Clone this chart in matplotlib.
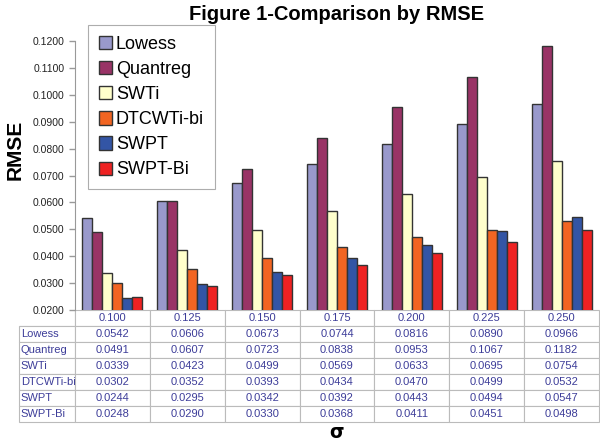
import numpy as np
import matplotlib
matplotlib.use("Agg")
from matplotlib import pyplot as plt

plt.rcParams['font.family'] = ['Liberation Sans', 'DejaVu Sans']

sigmas = ['0.100', '0.125', '0.150', '0.175', '0.200', '0.225', '0.250']
methods = ['Lowess', 'Quantreg', 'SWTi', 'DTCWTi-bi', 'SWPT', 'SWPT-Bi']
lowess = [0.0542, 0.0606, 0.0673, 0.0744, 0.0816, 0.0890, 0.0966]
quantreg = [0.0491, 0.0607, 0.0723, 0.0838, 0.0953, 0.1067, 0.1182]
swti = [0.0339, 0.0423, 0.0499, 0.0569, 0.0633, 0.0695, 0.0754]
dtcwti_bi = [0.0302, 0.0352, 0.0393, 0.0434, 0.0470, 0.0499, 0.0532]
swpt = [0.0244, 0.0295, 0.0342, 0.0392, 0.0443, 0.0494, 0.0547]
swpt_bi = [0.0248, 0.0290, 0.0330, 0.0368, 0.0411, 0.0451, 0.0498]
colors = ['#9999cc', '#993366', '#ffffcc', '#f26522', '#3355a5', '#ee2222']

series = [lowess, quantreg, swti, dtcwti_bi, swpt, swpt_bi]

W, H = 600, 441
fig = plt.figure(figsize=(6, 4.41), dpi=100)
ax = fig.add_axes([75 / W, 1 - 310 / H, 524 / W, 269 / H])

x = np.arange(len(sigmas))
bw = 0.8 / len(methods)
handles = []
for i, (name, vals) in enumerate(zip(methods, series)):
    b = ax.bar(x - 0.4 + bw * (i + 0.5), vals, bw, bottom=0, color=colors[i],
               edgecolor='#333333', linewidth=1, label=name)
    handles.append(b)

ax.set_xlim(-0.5, len(sigmas) - 0.5)
ax.set_ylim(0.02, 0.12)
yt = np.arange(0.02, 0.1201, 0.01)
ax.set_yticks(yt)
ax.set_yticklabels(['%.4f' % v for v in yt], fontsize=7.5, color='#222222')
ax.tick_params(axis='y', length=4, color='#999999', width=1)
ax.set_xticks([])
for s in ['top', 'right', 'bottom']:
    ax.spines[s].set_visible(False)
ax.spines['left'].set_color('#999999')

fig.text(337 / W, 1 - 15 / H, 'Figure 1-Comparison by RMSE', fontsize=14.5,
         fontweight='bold', ha='center', va='center')
fig.text(15 / W, 1 - 150 / H, 'RMSE', rotation=90, fontsize=15, fontweight='bold',
         ha='center', va='center')
fig.text(337 / W, 1 - 432 / H, 'σ', fontsize=13.5, fontweight='heavy',
         ha='center', va='center', family=['DejaVu Sans'])

# table under the plot
cell_text = [[m] + ['%.4f' % v for v in vals] for m, vals in zip(methods, series)]
col_labels = [''] + sigmas
widths = [56] + [75] * 7
widths = [w_ / sum(widths) for w_ in widths]
x0 = (19 - 75) / 524
tbl = ax.table(cellText=cell_text, colLabels=col_labels, colWidths=widths,
               cellLoc='center', bbox=[x0, -(422 - 310) / 269, (599 - 19) / 524, (422 - 310) / 269])
tbl.auto_set_font_size(False)
tbl.set_fontsize(8)
for (r, c), cell in tbl.get_celld().items():
    cell.set_edgecolor('#bbbbbb')
    cell.set_linewidth(0.8)
    cell.get_text().set_color('#3d3d99')
    if c == 0:
        cell.get_text().set_ha('left')
        cell._loc = 'left'
        cell.PAD = 0.03
    if r == 0 and c == 0:
        cell.visible_edges = 'BR'

leg = fig.legend(handles=handles, labels=methods, loc='upper left',
                 bbox_to_anchor=(88 / W, 1 - 25 / H), fontsize=13,
                 frameon=True, fancybox=False, handlelength=0.75, handleheight=0.75,
                 handletextpad=0.2, labelspacing=0.45, borderpad=0.6,
                 borderaxespad=0)
leg.get_frame().set_edgecolor('#999999')
leg.get_frame().set_linewidth(0.8)

fig.savefig('out.png', dpi=100)
